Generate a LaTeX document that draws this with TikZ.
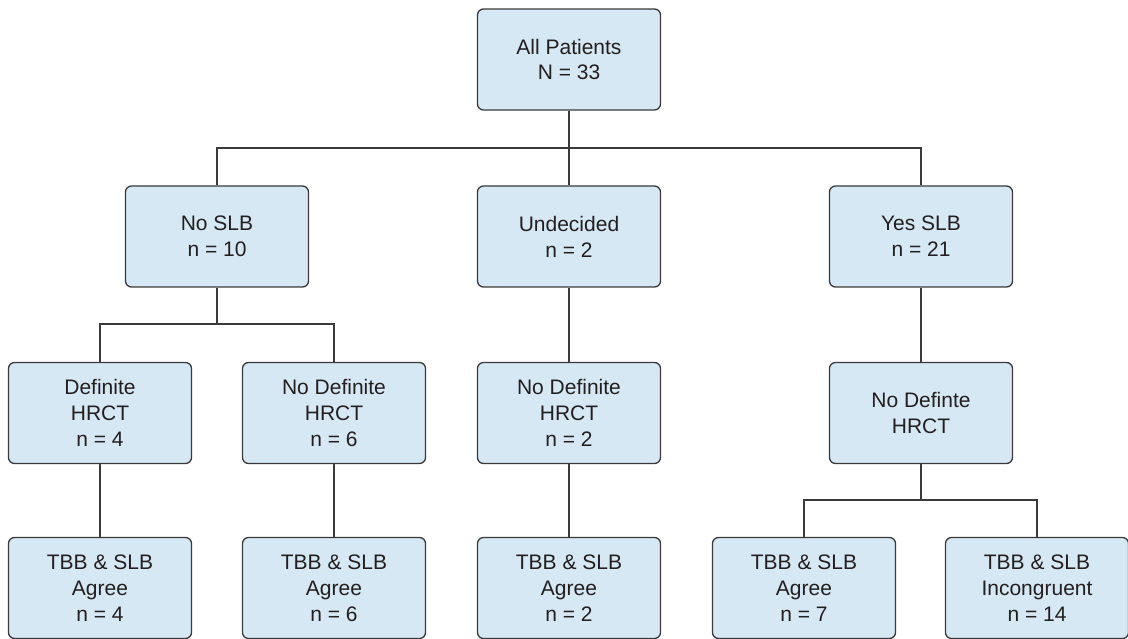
\documentclass[tikz,border=0pt]{standalone}
\usepackage{fontspec}
\setmainfont{Liberation Sans}
\definecolor{boxfill}{HTML}{D6E8F4}
\definecolor{boxline}{HTML}{3A3A3A}
\definecolor{txt}{HTML}{231F20}
\begin{document}
\begin{tikzpicture}[x=1pt,y=-1pt,
  box/.style={draw=boxline, fill=boxfill, line width=1.3pt, rounded corners=6pt,
    minimum width=183pt, minimum height=101pt, align=center, inner sep=0pt,
    text=txt, font=\fontsize{21}{25.8}\selectfont},
  conn/.style={draw=boxline, line width=1.1pt}]
\useasboundingbox (0,0) rectangle (1128,639);
% row 1
\node[box] (top) at (569,59.5) {All Patients\\N = 33};
% row 2
\node[box] (noslb) at (217,236.5) {No SLB\\n = 10};
\node[box] (undec) at (569,236.5) {Undecided\\n = 2};
\node[box] (yesslb) at (921,236.5) {Yes SLB\\n = 21};
% row 3
\node[box] (def) at (100,413) {Definite\\HRCT\\n = 4};
\node[box] (nodef) at (334,413) {No Definite\\HRCT\\n = 6};
\node[box] (nodefb) at (569,413) {No Definite\\HRCT\\n = 2};
\node[box] (nodefte) at (921,413) {No Definte\\HRCT};
% row 4
\node[box] (ag1) at (100,588) {TBB \& SLB\\Agree\\n = 4};
\node[box] (ag2) at (334,588) {TBB \& SLB\\Agree\\n = 6};
\node[box] (ag3) at (569,588) {TBB \& SLB\\Agree\\n = 2};
\node[box] (ag4) at (804,588) {TBB \& SLB\\Agree\\n = 7};
\node[box] (inc) at (1037,588) {TBB \& SLB\\Incongruent\\n = 14};
% junctions
\coordinate (j1) at (569,148);
\coordinate (j2) at (217,324);
\coordinate (j3) at (921,500);
% connectors
\draw[conn] (top.south) -- (undec.north);
\draw[conn] (noslb.north) |- (j1) -| (yesslb.north);
\draw[conn] (noslb.south) -- (j2);
\draw[conn] (def.north) |- (j2) -| (nodef.north);
\draw[conn] (undec.south) -- (nodefb.north);
\draw[conn] (yesslb.south) -- (nodefte.north);
\draw[conn] (def.south) -- (ag1.north);
\draw[conn] (nodef.south) -- (ag2.north);
\draw[conn] (nodefb.south) -- (ag3.north);
\draw[conn] (nodefte.south) -- (j3);
\draw[conn] (ag4.north) |- (j3) -| (inc.north);
\end{tikzpicture}
\end{document}
